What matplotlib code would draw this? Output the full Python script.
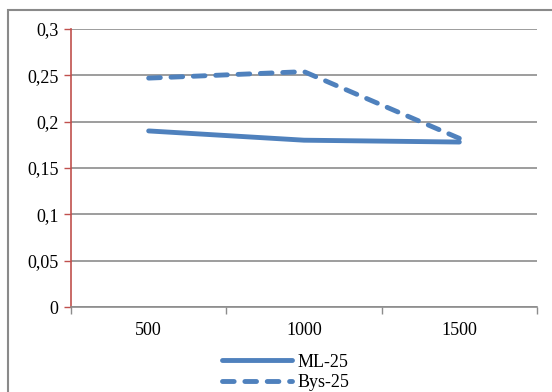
import numpy as np
import matplotlib.pyplot as plt
from matplotlib.patches import Rectangle

categories = ["500", "1000", "1500"]
ml_25 = [0.190, 0.180, 0.178]
bys_25 = [0.247, 0.254, 0.182]
y_ticks = [0, 0.05, 0.1, 0.15, 0.2, 0.25, 0.3]
y_labels = ["0", "0,05", "0,1", "0,15", "0,2", "0,25", "0,3"]

plt.rcParams['font.family'] = ['Liberation Serif', 'DejaVu Serif']

blue = "#4F81BD"
grid_gray = "#8C8C8C"

fig = plt.figure(figsize=(5.52, 3.92), dpi=100)
ax = fig.add_axes([71 / 552, 1 - 307 / 392, (537 - 71) / 552, (307 - 29) / 392])

# outer chart border (runs off the picture at right and bottom)
fig.patches.append(Rectangle((8 / 552, -0.1), 1.2, 1 - 10 / 392 + 0.1,
                             transform=fig.transFigure, fill=False,
                             edgecolor="#8A8A8A", linewidth=1.5))

x = np.arange(len(categories))
ax.plot(x, ml_25, color=blue, linewidth=3.5, solid_capstyle="round", label="ML-25")
ax.plot(x, bys_25, color=blue, linewidth=3.5, linestyle=(0, (2.4, 2.2)),
        dash_capstyle="round", label="Bys-25")

ax.set_xlim(-0.5, 2.5)
ax.set_ylim(0, 0.3)
ax.set_yticks(y_ticks)
ax.set_yticklabels(y_labels, fontsize=13)
ax.set_xticks(x)
ax.set_xticklabels(categories, fontsize=13)
ax.set_xticks([-0.5, 0.5, 1.5, 2.5], minor=True)
ax.tick_params(axis="x", which="major", length=0, pad=11)
ax.tick_params(axis="x", which="minor", length=5, color=grid_gray, width=1)
ax.tick_params(axis="y", length=5, color="#C0504D", width=1, pad=4)

ax.grid(axis="y", color=grid_gray, linewidth=1.2)
ax.set_axisbelow(True)
for s in ["top", "right"]:
    ax.spines[s].set_visible(False)
ax.spines["left"].set_color("#C0504D")
ax.spines["left"].set_linewidth(1.2)
ax.spines["bottom"].set_color(grid_gray)
ax.spines["bottom"].set_linewidth(1.2)

ax.legend(loc="upper center", bbox_to_anchor=(0.46, -0.135), ncol=1, frameon=False,
          fontsize=13, handlelength=3.9, handletextpad=0.3, labelspacing=0.2,
          borderpad=0)

fig.savefig("out.png", dpi=100)
